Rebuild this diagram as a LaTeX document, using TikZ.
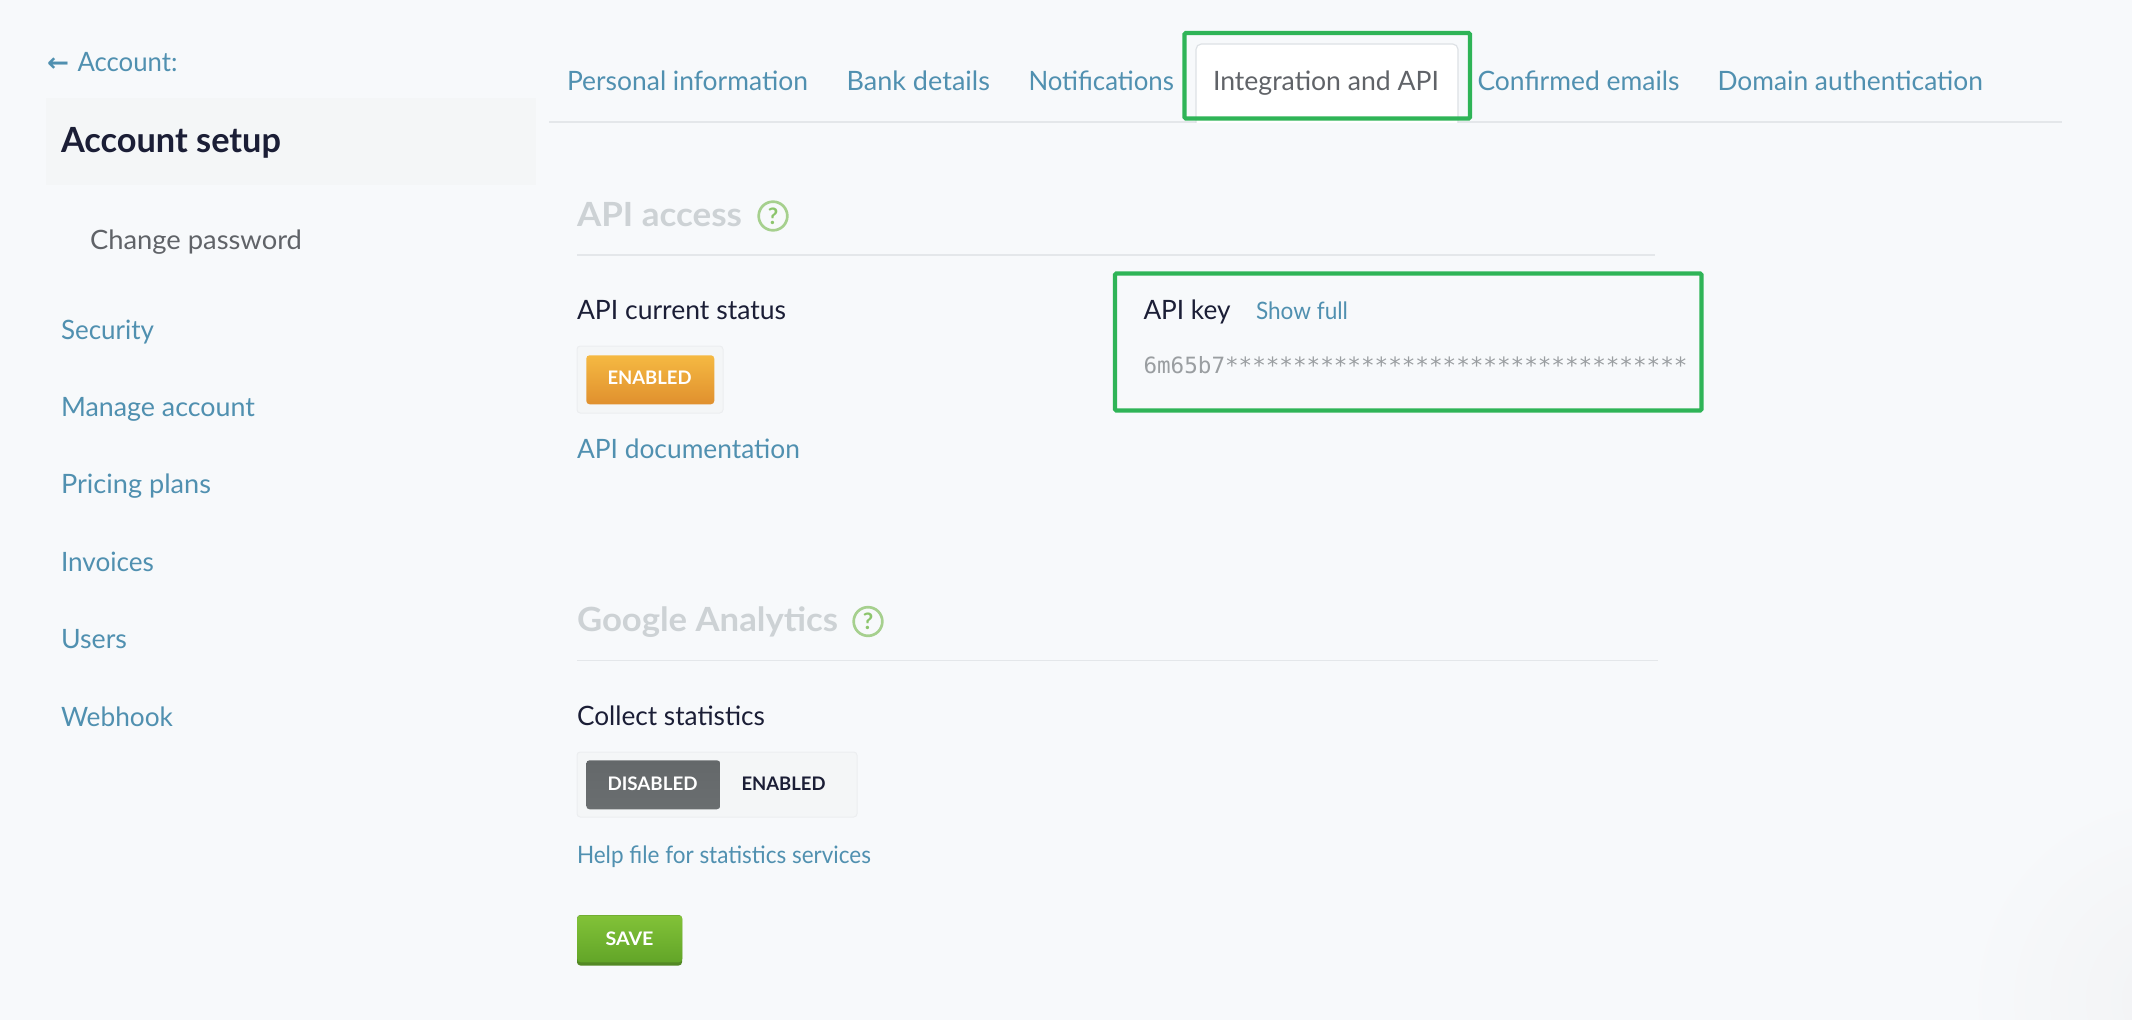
\documentclass[tikz,border=0pt]{standalone}
\usepackage{fontspec}
\usepackage{graphicx}
\setmainfont{Lato}
\newfontfamily\symf{DejaVu Sans}
\newfontfamily\keyf{DejaVu Sans Mono}
\definecolor{bgc}{HTML}{F7F9FB}
\definecolor{cornerc}{HTML}{F2F3F5}
\definecolor{panelc}{HTML}{F4F6F7}
\definecolor{linkc}{HTML}{5090B0}
\definecolor{darkc}{HTML}{1B1E36}
\definecolor{greyc}{HTML}{606368}
\definecolor{fadec}{HTML}{CDD2D5}
\definecolor{rulec}{HTML}{E4E7EA}
\definecolor{framec}{HTML}{2FB457}
\definecolor{tabc}{HTML}{DDE1E5}
\definecolor{askc}{HTML}{A6D08E}
\definecolor{askt}{HTML}{8CC56C}
\definecolor{keyc}{HTML}{9A9EA1}
\definecolor{ambertop}{HTML}{F5B942}
\definecolor{amberbot}{HTML}{E0902E}
\definecolor{greytop}{HTML}{64686A}
\definecolor{greybot}{HTML}{6A6E70}
\definecolor{savetop}{HTML}{82C238}
\definecolor{savebot}{HTML}{62A528}
\definecolor{saveedge}{HTML}{538924}
\newsavebox{\fitbox}
\newcommand{\fitw}[2]{\sbox{\fitbox}{#2}\pgfmathsetmacro{\fitf}{#1*0.75/\the\wd\fitbox}\scalebox{\fitf}[1]{\usebox{\fitbox}}}
\newcommand{\lbl}[6]{\node[txt,#5] (#1) at (#2,#3) {\fitw{#4}{#6}};}
\tikzset{
  txt/.style={anchor=base west,inner sep=0pt,outer sep=0pt},
  body/.style={font=\fontsize{20pt}{23pt}\selectfont},
  small/.style={font=\fontsize{18pt}{21pt}\selectfont},
  link/.style={body,text=linkc},
  btn/.style={font=\fontsize{14pt}{16pt}\selectfont\bfseries},
  heading/.style={font=\fontsize{25pt}{28pt}\selectfont\bfseries,text=fadec},
  ask/.style={circle,draw=askc,line width=2pt,fill=none,inner sep=0pt,minimum size=21.5pt,text=askt,font=\fontsize{17pt}{18pt}\selectfont\bfseries},
  rule/.style={draw=rulec,line width=0.9pt},
  frame/.style={draw=framec,line width=3.2pt,rounded corners=1pt},
  group/.style={draw=rulec!70,fill=panelc,line width=0.75pt,rounded corners=2.5pt},
  press/.style={inner sep=0pt,rounded corners=2.5pt,anchor=north west,draw=none},
}
\begin{document}
\begin{tikzpicture}[x=0.75pt,y=-0.75pt]
\useasboundingbox (0,0) rectangle (2132,1020);
\fill[bgc] (0,0) rectangle (2132,1020);
\begin{scope}
\clip (0,0) rectangle (2132,1020);
\shade[inner color=cornerc,outer color=bgc] (2175,1000) circle (215);
\end{scope}
% sidebar
\fill[panelc] (46,98) rectangle (536,185);
\lbl{back}{47}{72}{22}{text=linkc,font=\symf\bfseries\fontsize{19pt}{20pt}\selectfont}{←}
\lbl{acct}{77.5}{72}{100}{link}{Account:}
\lbl{setup}{61}{152.5}{220}{font=\fontsize{26pt}{30pt}\selectfont\bfseries,text=darkc}{Account setup}
\lbl{pw}{90}{249}{212}{body,text=greyc}{Change password}
\lbl{sec}{61}{339.5}{93}{link}{Security}
\lbl{man}{61}{416}{194}{link}{Manage account}
\lbl{pri}{61}{493}{150}{link}{Pricing plans}
\lbl{inv}{61}{571}{93}{link}{Invoices}
\lbl{usr}{61}{648}{66}{link}{Users}
\lbl{web}{61}{726}{112}{link}{Webhook}
% tabs
\draw[rule] (549,122) -- (2062,122);
\draw[draw=tabc,fill=white,line width=0.9pt,rounded corners=4pt] (1196,123) -- (1196,44) -- (1458,44) -- (1458,123);
\lbl{t1}{567}{90.5}{241}{link}{Personal information}
\lbl{t2}{846.5}{90.5}{143.5}{link}{Bank details}
\lbl{t3}{1028.5}{90.5}{145.5}{link}{Notifications}
\lbl{t4}{1213}{90.5}{226}{body,text=greyc}{Integration and API}
\lbl{t5}{1477.5}{90.5}{202}{link}{Confirmed emails}
\lbl{t6}{1717.5}{90.5}{265.5}{link}{Domain authentication}
\draw[frame] (1184.5,33) rectangle (1470,118.5);
% API access
\lbl{h1}{577}{226.5}{165}{heading}{API access}
\node[ask] (q1) at (773,216) {?};
\draw[rule] (577,255) -- (1655,255);
\lbl{st}{577}{319}{209}{body,text=darkc}{API current status}
\draw[group] (577,346) rectangle (723,413);
\node[press,minimum width=96pt,minimum height=36.75pt,top color=ambertop,bottom color=amberbot] (b1) at (586,355) {};
\lbl{b1t}{607.5}{384}{84}{btn,text=white}{ENABLED}
\lbl{doc}{577}{458}{223}{link}{API documentation}
% API key
\draw[frame] (1115,273.5) rectangle (1701.5,410.5);
\lbl{k}{1143.5}{319.5}{87}{body,text=darkc}{API key}
\lbl{sf}{1256}{319.5}{92}{small,text=linkc}{Show full}
\lbl{kv}{1143.5}{373}{544}{text=keyc,font=\keyf\fontsize{16.8pt}{20pt}\selectfont}{6m65b7**********************************}
% Google Analytics
\lbl{h2}{577}{631}{261}{heading}{Google Analytics}
\node[ask] (q2) at (868,621.5) {?};
\draw[rule] (577,660.5) -- (1658,660.5);
\lbl{cs}{577}{725}{188}{body,text=darkc}{Collect statistics}
\draw[group] (577,752) rectangle (857,817);
\node[press,minimum width=100.5pt,minimum height=36.75pt,top color=greytop,bottom color=greybot] (b2) at (586,760) {};
\lbl{b2t}{607.5}{790}{90}{btn,text=white}{DISABLED}
\lbl{b3t}{741.5}{790}{84}{btn,text=darkc}{ENABLED}
\lbl{help}{577}{863}{294}{small,text=linkc}{Help file for statistics services}
\fill[rounded corners=2.5pt,fill=saveedge] (577,915) rectangle (682,965.5);
\node[press,minimum width=78.75pt,minimum height=35.25pt,top color=savetop,bottom color=savebot] (b4) at (577,915) {};
\lbl{b4t}{605.5}{945}{48}{btn,text=white}{SAVE}
\end{tikzpicture}
\end{document}
